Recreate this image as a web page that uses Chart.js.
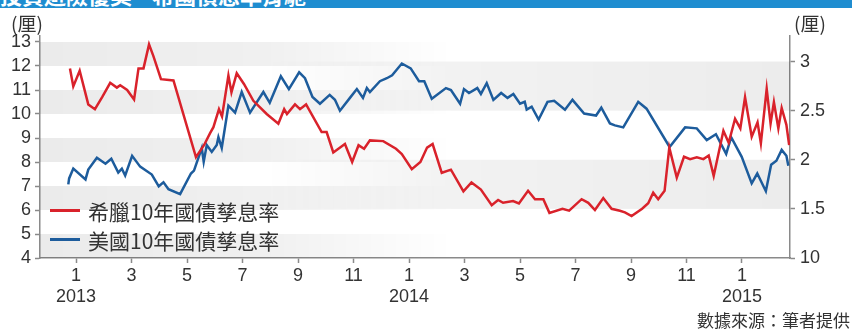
<!DOCTYPE html>
<html>
<head>
<meta charset="utf-8">
<script src="https://cdn.jsdelivr.net/npm/chart.js@4/dist/chart.umd.min.js"></script>
<style>
  html, body { margin: 0; padding: 0; background: #fff; }
  #wrap { position: relative; width: 852px; height: 329px; overflow: hidden; }
  #chart { position: absolute; left: 0; top: 0; }
  .banner { position: absolute; left: 0; top: 0; width: 852px; height: 8px; background: #1f8dd0; overflow: hidden; }
  .banner span { position: absolute; left: 0; top: -17px; font: bold 22px "Noto Sans CJK TC", sans-serif; color: #fff; white-space: nowrap; line-height: 22px; }
  .unit { position: absolute; top: 9px; font: 19px "Noto Sans CJK TC", sans-serif; color: #333; transform: translateX(-50%); }
  .legend { position: absolute; left: 50px; top: 196px; font: 21px "Noto Sans CJK TC", sans-serif; color: #333; }
  .legend div { display: flex; align-items: center; height: 29px; }
  .legend i { display: inline-block; width: 30px; height: 3px; margin-right: 8px; }
  .source { position: absolute; right: 2px; top: 307px; font: 17px "Noto Sans CJK TC", sans-serif; color: #333; }
</style>
</head>
<body>
<div id="wrap">
  <canvas id="chart" width="852" height="329"></canvas>
  <div class="banner"><span>投資避險優美—希國債息率背馳</span></div>
  <div class="unit" style="left:27px">(厘)</div>
  <div class="unit" style="left:810px">(厘)</div>
  <div class="legend" id="legend"></div>
  <div class="source">數據來源：筆者提供</div>
</div>
<script>
// x = months since Jan 2013 (0 = Jan 2013, 12 = Jan 2014, 24 = Jan 2015)
const greeceLabel = "希臘10年國債孳息率";
const usLabel = "美國10年國債孳息率";

const greeceX = [-0.22,-0.10,0.13,0.44,0.68,0.94,1.23,1.47,1.59,1.84,
  2.09,2.25,2.43,2.63,2.79,3.06,3.51,4.32,4.61,4.83,
  4.95,5.15,5.26,5.49,5.60,5.79,6.05,6.39,6.87,7.29,
  7.50,7.60,7.89,8.07,8.29,8.85,9.03,9.27,9.69,9.95,
  10.18,10.38,10.59,11.07,11.53,11.74,12.10,12.41,12.65,12.85,
  13.18,13.51,13.96,14.25,14.59,14.98,15.21,15.39,15.75,15.96,
  16.29,16.54,16.84,17.06,17.53,17.77,18.22,18.46,18.70,19.00,
  19.30,19.60,19.78,20.02,20.40,20.62,20.80,20.98,21.21,21.38,
  21.65,21.91,22.13,22.37,22.61,22.80,22.98,23.33,23.52,23.75,
  23.94,24.11,24.35,24.56,24.68,24.89,25.03,25.15,25.31,25.43,
  25.60,25.70];
const greeceYield = [11.9,11.15,11.8,10.4,10.2,10.7,11.3,11.1,11.2,11.0,
  10.6,11.9,11.9,12.9,12.4,11.45,11.4,8.2,8.7,9.2,
  9.45,10.2,9.9,11.6,10.9,11.7,11.25,10.55,10.0,9.6,
  10.2,10.0,10.4,10.2,10.4,9.25,9.25,8.4,8.75,8.0,
  8.7,8.55,8.9,8.87,8.55,8.33,7.7,8.0,8.6,8.75,
  7.55,7.68,6.78,7.15,6.85,6.2,6.42,6.3,6.37,6.27,
  6.8,6.45,6.45,5.88,6.05,5.97,6.45,6.3,6.0,6.5,
  6.05,5.97,5.9,5.75,6.05,6.28,6.72,6.45,6.8,8.6,
  7.35,8.22,8.12,8.2,8.12,8.27,7.42,9.3,8.8,9.8,
  9.4,10.7,9.05,9.65,8.78,11.05,9.6,10.5,9.4,10.25,
  9.55,8.7];

const usX = [-0.28,-0.25,-0.10,0.34,0.44,0.75,1.06,1.27,1.52,1.65,
  1.77,2.02,2.31,2.73,2.98,3.15,3.33,3.75,4.14,4.25,
  4.53,4.60,4.71,4.89,5.07,5.13,5.25,5.49,5.73,5.97,
  6.27,6.75,6.98,7.38,7.67,8.04,8.25,8.52,8.79,9.14,
  9.33,9.51,9.87,10.12,10.34,10.48,10.59,10.95,11.20,11.39,
  11.74,12.06,12.36,12.55,12.82,13.33,13.51,13.84,13.98,14.16,
  14.46,14.59,14.80,15.04,15.32,15.55,15.76,16.00,16.17,16.24,
  16.42,16.67,16.99,17.23,17.62,17.89,18.31,18.74,18.93,19.24,
  19.42,19.72,20.26,20.56,21.39,21.95,22.37,22.73,23.06,23.43,
  23.61,23.99,24.35,24.55,24.86,25.05,25.24,25.43,25.60,25.67];
const usYield = [1.75,1.81,1.91,1.80,1.90,2.02,1.96,2.01,1.87,1.91,
  1.84,2.04,1.93,1.85,1.73,1.77,1.70,1.65,1.86,1.89,
  2.12,1.98,2.15,2.08,2.15,2.23,2.12,2.55,2.48,2.69,
  2.48,2.69,2.58,2.85,2.72,2.89,2.83,2.64,2.57,2.66,
  2.61,2.50,2.63,2.72,2.63,2.73,2.69,2.80,2.83,2.86,
  2.98,2.93,2.80,2.80,2.62,2.73,2.71,2.57,2.72,2.68,
  2.73,2.67,2.78,2.61,2.68,2.63,2.67,2.57,2.59,2.51,
  2.54,2.41,2.59,2.60,2.51,2.61,2.47,2.45,2.53,2.37,
  2.35,2.33,2.59,2.52,2.13,2.33,2.32,2.20,2.26,2.06,
  2.23,2.03,1.76,1.86,1.68,1.95,1.99,2.10,2.04,1.94];

// axis ticks
const monthTicks = [0,2,4,6,8,10,12,14,16,18,20,22,24];
const monthLabels = ["1","3","5","7","9","11","1","3","5","7","9","11","1"];
const yearLabels = {0: "2013", 12: "2014", 24: "2015"};
const leftTicks = [4,5,6,7,8,9,10,11,12,13];
const rightTicks = [1,1.5,2,2.5,3];
const rightTickLabels = ["10","1.5","2","2.5","3"];

const RED = "#d9222b";
const BLUE = "#1d5c9c";
const AXIS = "#8a8a8a";
const TXT = "#333";
const tickFont = { family: "'Liberation Sans', Arial, sans-serif", size: 18 };

const toPoints = (xs, ys) => xs.map((x, i) => ({ x, y: ys[i] }));

// grey stripes: left-axis stripes fade out to the right, right-axis ones fade in
const bandsPlugin = {
  id: "bands",
  beforeDatasetsDraw(chart) {
    const { ctx, chartArea: a, scales } = chart;
    ctx.save();
    ctx.beginPath();
    ctx.rect(a.left, a.top, a.right - a.left, a.bottom - a.top);
    ctx.clip();

    const gl = ctx.createLinearGradient(a.left, 0, a.right, 0);
    gl.addColorStop(0, "rgba(0,0,0,0.08)");
    gl.addColorStop(0.3, "rgba(0,0,0,0.06)");
    gl.addColorStop(0.55, "rgba(0,0,0,0)");
    ctx.fillStyle = gl;
    for (let i = 0; i < leftTicks.length - 1; i += 2) {
      const y0 = scales.y.getPixelForValue(leftTicks[i + 1]);
      const y1 = scales.y.getPixelForValue(leftTicks[i]);
      ctx.fillRect(a.left, y0, a.right - a.left, y1 - y0);
    }

    const gr = ctx.createLinearGradient(a.left, 0, a.right, 0);
    gr.addColorStop(0.3, "rgba(0,0,0,0)");
    gr.addColorStop(0.55, "rgba(0,0,0,0.05)");
    gr.addColorStop(1, "rgba(0,0,0,0.075)");
    ctx.fillStyle = gr;
    for (let i = 1; i < rightTicks.length - 1; i += 2) {
      const y0 = scales.y1.getPixelForValue(rightTicks[i + 1]);
      const y1 = scales.y1.getPixelForValue(rightTicks[i]);
      ctx.fillRect(a.left, y0, a.right - a.left, y1 - y0);
    }
    ctx.restore();
  }
};

const chart = new Chart(document.getElementById("chart"), {
  type: "line",
  data: {
    datasets: [
      { label: greeceLabel, data: toPoints(greeceX, greeceYield), yAxisID: "y",
        borderColor: RED, borderWidth: 2.5, pointRadius: 0, tension: 0 },
      { label: usLabel, data: toPoints(usX, usYield), yAxisID: "y1",
        borderColor: BLUE, borderWidth: 2.5, pointRadius: 0, tension: 0 }
    ]
  },
  options: {
    responsive: false,
    animation: false,
    layout: { padding: { top: 36 } },
    plugins: { legend: { display: false }, tooltip: { enabled: false } },
    scales: {
      x: {
        type: "linear",
        min: -1.3,
        max: 25.73,
        afterBuildTicks: s => { s.ticks = monthTicks.map(v => ({ value: v })); },
        afterFit: s => { s.height = 71; },
        grid: { drawOnChartArea: false, tickLength: 5, color: AXIS, tickWidth: 1.5 },
        border: { color: AXIS, width: 1.5 },
        ticks: {
          color: TXT, font: tickFont, maxRotation: 0, autoSkip: false, padding: 2,
          callback: v => {
            const m = monthLabels[monthTicks.indexOf(v)];
            return yearLabels[v] ? [m, yearLabels[v]] : m;
          }
        }
      },
      y: {
        position: "left",
        min: 4,
        max: 13.25,
        afterBuildTicks: s => { s.ticks = leftTicks.map(v => ({ value: v })); },
        afterFit: s => { s.width = 40; },
        grid: { drawOnChartArea: false, tickLength: 5, color: AXIS, tickWidth: 1.5 },
        border: { color: AXIS, width: 1.5 },
        ticks: { color: TXT, font: tickFont, padding: 4 }
      },
      y1: {
        position: "right",
        min: 1,
        max: 3.26,
        afterBuildTicks: s => { s.ticks = rightTicks.map(v => ({ value: v })); },
        afterFit: s => { s.width = 62; },
        grid: { drawOnChartArea: false, tickLength: 5, color: AXIS, tickWidth: 1.5 },
        border: { color: AXIS, width: 1.5 },
        ticks: {
          color: TXT, font: tickFont, padding: 5,
          callback: v => rightTickLabels[rightTicks.indexOf(v)]
        }
      }
    }
  },
  plugins: [bandsPlugin]
});

// legend inside the plot, bottom-left
const legendBox = document.getElementById("legend");
chart.data.datasets.forEach(ds => {
  const row = document.createElement("div");
  row.innerHTML = `<i style="background:${ds.borderColor}"></i><span>${ds.label}</span>`;
  legendBox.appendChild(row);
});
</script>
</body>
</html>
